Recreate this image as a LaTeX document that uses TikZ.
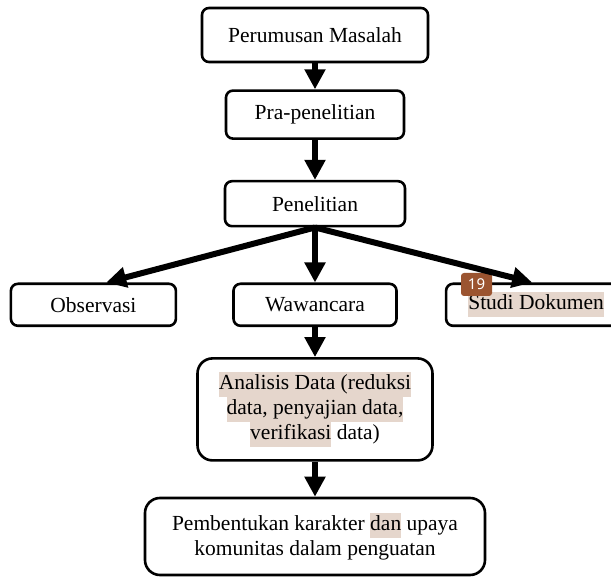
\documentclass[tikz,border=0pt]{standalone}
\usepackage{fontspec}
\setmainfont{Liberation Serif}
\newfontfamily\badgefont{Noto Sans}
\usetikzlibrary{arrows.meta,positioning}
\definecolor{Hilite}{HTML}{E5D6CC}
\definecolor{Badge}{HTML}{9B5430}
\newcommand{\hlt}[1]{{\setlength{\fboxsep}{0pt}\colorbox{Hilite}{\strut #1}}}

\begin{document}
\begin{tikzpicture}[x=1pt,y=-1pt,node distance=28pt,
    box/.style={draw,line width=2.6pt,fill=white,rounded corners=7pt,align=center,
      font=\fontsize{21.5}{25}\selectfont,inner sep=0pt},
    flow/.style={line width=6pt,-{Triangle[width=20pt,length=20pt]}},
    badge/.style={fill=Badge,rounded corners=3pt,text=white,font=\badgefont\fontsize{15}{15}\selectfont,
      minimum width=31pt,minimum height=23pt,inner sep=0pt}]
  \useasboundingbox (0,0) rectangle (611,577);
  \node[box,minimum width=226pt,minimum height=54pt] (masalah) at (315,35) {Perumusan Masalah};
  \node[box,minimum width=178pt,minimum height=48pt,below=26pt of masalah] (pra) {Pra-penelitian};
  \node[box,minimum width=180pt,minimum height=45pt,below=40pt of pra] (teliti) {Penelitian};
  \node[box,minimum width=163pt,minimum height=42pt,below=55pt of teliti] (wawancara) {Wawancara};
  \node[box,minimum width=165pt,minimum height=42pt,left=55pt of wawancara] (observasi) {Observasi};
  \node[box,minimum width=180pt,minimum height=42pt,right=47pt of wawancara] (dokumen) {\hlt{Studi Dokumen}};
  \node[box,minimum width=235pt,minimum height=102pt,rounded corners=15pt,below=30pt of wawancara] (analisis)
    {\hlt{Analisis Data (reduksi}\\\hlt{data, penyajian data,}\\\hlt{verifikasi} data)};
  \node[box,minimum width=340pt,minimum height=77pt,rounded corners=15pt,below=35pt of analisis] (karakter)
    {Pembentukan karakter \hlt{dan} upaya\\komunitas dalam penguatan};
  \node[badge] (nomor) at (476.5,284.5) {19};
  % panah alur
  \draw[flow] (masalah) -- (pra);
  \draw[flow] (pra) -- (teliti);
  \draw[flow] (teliti.south) -- (observasi.60);
  \draw[flow] (teliti.south) -- (wawancara);
  \draw[flow] (teliti.south) -- (dokumen.100);
  \draw[flow] (wawancara) -- (analisis);
  \draw[flow] (analisis) -- (karakter);
\end{tikzpicture}
\end{document}
